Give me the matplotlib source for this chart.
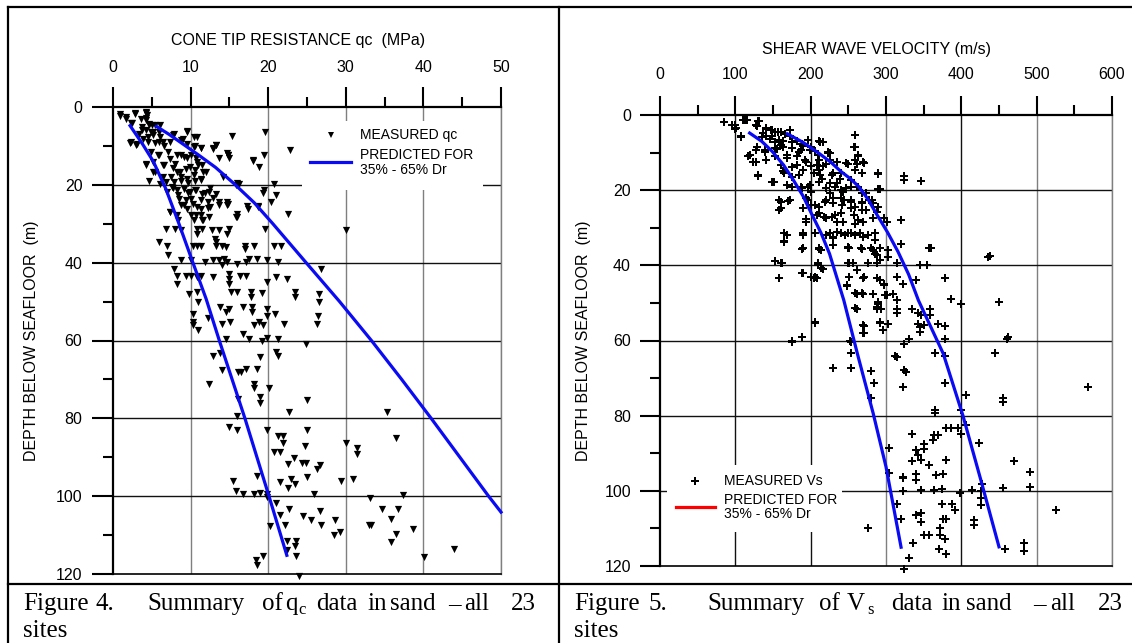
import matplotlib
matplotlib.use('Agg')
import matplotlib.pyplot as plt
from matplotlib.patches import Rectangle
from matplotlib.lines import Line2D

# ---------------- data ----------------
# Figure 4: measured cone tip resistance qc (MPa) vs depth (m)
qc_shallow = [(0.9,1.7),(1.7,2.6),(2.8,1.5),(2.3,4.0),(3.6,3.0),(4.3,1.3),(4.4,2.1),(4.3,3.4),(4.6,4.3),(3.8,5.1),
 (5.0,4.7),(5.4,4.7),(6.1,4.5),(4.3,6.0),(4.9,6.4),(3.3,6.9),(5.2,7.3),(5.9,6.4),(7.8,6.9),(9.5,6.2),(19.6,6.3),
 (10.8,7.7),(2.3,9.0),(3.1,9.4),(4.5,9.0),(5.9,9.0),(6.6,9.9),(7.3,9.0),(8.7,8.6),(9.6,9.4),(10.6,9.9),(11.3,10.5),
 (13.3,9.7),(12.9,10.7),(15.3,7.5),(22.8,11.1),(14.7,11.7),(14.8,12.4),(18.1,13.7),(19.4,12.3),(18.8,15.3),(4.3,14.6),
 (5.2,14.1),(5.9,12.4),(6.6,15.0),(5.4,16.7),(7.3,13.3),(8.0,14.6),(8.7,12.4),(9.6,13.1),(10.1,12.4),(10.8,14.1),
 (11.5,15.0),(12.0,16.7),(10.6,16.3),(9.4,15.9),(8.2,16.7),(7.5,18.0),(4.7,18.9),(6.1,19.7),(6.8,19.3),(8.7,18.9),
 (9.6,18.4),(10.6,18.9),(11.3,18.4),(16.0,19.5),(16.2,19.7),(20.8,19.7),(19.4,21.4),(21.0,22.5),(20.4,24.4),(7.6,20.6),
 (8.2,21.4),(9.2,21.0),(9.9,21.9),(10.6,21.4),(11.5,22.3),(12.4,21.9),(13.3,22.3),(8.5,23.6),(9.4,24.0),(10.1,23.6),
 (11.3,24.0),(12.3,24.4),(13.6,24.4),(14.7,25.3),(14.7,24.4),(17.3,25.5),(18.7,25.4),(8.7,25.3),(9.6,26.1),(10.8,25.7),
 (12.3,26.0),(7.3,27.0),(8.2,27.8),(10.1,27.8),(11.3,27.7),(12.4,28.3),(16.0,28.3),(16.0,27.4),(22.5,27.6),(10.5,29.1),
 (11.5,29.1)]
qc_shallow_extra = [(0.9,2.2),(1.7,3.1),(2.8,1.9),(4.2,1.6),(4.3,2.9),(2.4,4.2),(3.7,5.9),(4.7,4.6),(5.2,6.3),(4.5,7.6),
 (3.9,8.1),(6.0,7.6),(2.2,9.3),(3.0,9.8),(5.4,9.3),(6.4,8.9),(7.7,7.2),(9.0,8.1),(9.5,6.3),(10.5,7.6),(11.4,10.6),
 (10.5,10.2),(12.9,10.6),(13.3,9.8),(4.9,11.5),(5.8,12.3),(7.1,11.5),(8.2,12.3),(9.2,12.8),(10.7,13.2),(13.7,13.2),
 (15.0,13.2),(14.8,12.3),(18.0,13.9),(4.2,14.9),(6.4,14.9),(7.7,15.8),(8.6,16.6),(9.9,15.3),(11.0,14.9),(11.6,16.6),
 (5.2,16.6),(6.4,17.9),(7.9,19.2),(8.8,17.9),(9.7,19.6),(10.5,17.5),(11.4,18.8),(14.2,17.9),(15.9,20.0),(6.9,21.8),
 (7.7,20.9),(8.4,22.6),(9.7,22.2),(10.7,21.3),(11.8,22.2),(12.5,20.9),(12.9,23.5),(19.3,22.2),(7.3,26.9),(9.2,25.2),
 (10.3,24.8),(11.4,26.1),(12.5,25.6),(13.7,25.2),(14.8,24.8),(8.4,29.0),(10.7,27.8),(11.6,29.0),(15.9,28.2),(17.4,26.1),
 (18.7,25.6)]
qc_mid = [(6.8,31.3),(8.0,31.3),(8.7,31.7),(10.8,31.3),(11.5,31.3),(12.7,31.7),(13.6,31.7),(15.0,31.3),(14.7,32.6),
 (10.8,32.6),(19.6,31.3),(30.0,31.5),(13.1,33.8),(13.3,34.7),(5.9,34.7),(7.0,35.6),(10.3,35.6),(10.8,35.6),(11.3,35.6),
 (13.3,35.6),(14.1,35.6),(14.6,36.0),(17.0,35.6),(17.0,36.4),(18.2,35.6),(20.8,35.6),(21.7,35.6),(7.1,38.1),(8.7,39.4),
 (10.1,39.4),(11.9,39.8),(12.9,39.4),(13.6,39.4),(14.3,39.0),(14.7,39.8),(16.0,40.3),(17.1,39.8),(17.5,39.0),(18.6,39.0),
 (19.9,39.4),(21.3,39.8),(14.0,40.7),(26.8,41.6),(7.8,41.6),(8.2,43.3),(9.4,43.3),(10.1,43.3),(10.8,43.7),(11.3,43.3),
 (12.9,43.7),(15.0,42.8),(15.0,44.1),(16.4,43.3),(17.1,43.3),(19.9,45.0),(21.0,43.7),(22.4,44.1),(8.2,45.4),(15.0,45.4),
 (15.2,47.6),(16.0,47.6),(9.8,48.0),(10.8,47.6),(11.0,50.1),(17.8,47.6),(17.8,48.8),(19.2,47.7),(23.5,47.6),(23.5,48.8),
 (26.6,48.0),(26.6,50.1)]
qc_deep = [(10.3,53.2),(10.3,55.3),(10.3,56.1),(11.0,57.4),(12.3,54.3),(13.8,51.4),(14.5,52.7),(15.0,51.9),(14.0,55.7),
 (15.1,55.3),(16.8,51.4),(17.9,51.4),(17.9,52.7),(19.9,51.9),(19.9,53.6),(20.9,53.2),(22.1,55.7),(18.2,56.1),(18.8,55.3),
 (19.3,56.1),(26.4,53.6),(26.3,55.7),(16.8,58.3),(17.5,59.7),(19.2,60.0),(19.9,59.4),(21.3,59.7),(14.5,59.6),(24.9,60.9),
 (21.0,63.0),(21.2,64.0),(18.9,64.3),(12.9,64.0),(13.8,63.2),(14.0,67.7),(16.1,68.1),(16.5,68.0),(17.1,67.3),(18.5,67.3),
 (18.2,71.1),(18.2,72.2),(20.1,72.2),(12.4,71.1),(16.1,75.0),(18.9,74.6),(18.9,76.1),(25.0,75.2),(22.7,78.4),(35.3,78.4),
 (16.0,79.3),(15.0,82.3),(16.0,83.1),(19.8,83.1),(25.0,83.1),(21.3,84.6),(21.9,84.6),(36.5,85.1),(21.9,86.3),(30.0,86.3),
 (24.7,87.2),(20.8,88.7),(21.5,88.7),(31.5,87.7),(31.5,89.1),(23.3,90.2),(22.6,91.7),(24.4,91.4),(24.9,91.4),(26.7,91.9),
 (26.3,93.0),(18.6,94.7),(25.0,95.1),(22.9,95.5),(21.5,96.4),(15.4,96.0),(29.4,96.0),(30.9,95.5),(23.5,96.8),(22.6,97.9),
 (15.8,98.8),(16.8,99.4),(18.2,99.4),(19.0,99.2),(19.8,99.4),(19.9,100.2),(25.9,99.4),(37.4,99.8),(33.1,100.5),(21.0,101.7),
 (21.5,104.8),(22.7,103.4),(26.7,103.7),(34.7,103.4),(36.7,103.4),(24.5,105.1),(25.5,106.2),(35.8,105.8),(28.6,106.0),
 (20.2,107.7),(22.2,107.5),(26.8,107.5),(33.0,107.5),(33.3,107.5),(38.6,108.4),(29.2,109.1),(28.5,109.9),(36.5,109.7),
 (22.4,111.5),(23.6,111.5),(23.4,112.7),(22.4,113.9),(35.8,111.8),(43.9,113.7),(23.6,115.4),(40.1,115.7),(19.3,115.4),
 (18.4,116.5),(18.6,117.8),(24.0,120.4)]

# Figure 4: predicted qc bounds (35% and 65% Dr)
qc_pred_low_qc = [2.2, 3.8, 5.2, 6.8, 8.5, 10.3, 12.0, 13.7, 17.0, 20.1, 22.4]
qc_pred_low_depth = [4.8, 9.5, 14.0, 21.0, 30.0, 40.0, 49.3, 60.0, 80.0, 100.0, 115.2]
qc_pred_high_qc = [5.6, 7.2, 9.0, 11.0, 13.2, 15.6, 18.2, 20.6, 24.8, 29.2, 33.3, 37.2, 41.0, 44.7, 48.4, 50.0]
qc_pred_high_depth = [5.0, 7.0, 9.5, 12.3, 15.5, 19.7, 24.6, 30.0, 39.8, 50.0, 60.0, 70.0, 80.0, 90.0, 100.0, 104.1]

# Figure 5: measured shear wave velocity Vs (m/s) vs depth (m)
vs_shallow = [(85,1.9),(100,2.6),(100,3.7),(110,1.4),(115,1.4),(108,5.7),(132,1.7),(129,2.8),(141,3.5),(149,3.9),
 (153,4.4),(160,4.6),(173,3.9),(137,4.8),(141,5.7),(149,5.5),(158,6.6),(163,7.0),(173,5.7),(182,7.0),(190,8.2),(196,6.6),
 (211,7.0),(216,7.3),(129,8.4),(139,9.3),(153,8.8),(163,8.4),(175,8.8),(187,9.3),(201,8.4),(206,9.7),(223,10.0),(226,10.0),
 (117,11.0),(124,12.6),(141,11.9),(153,11.0),(168,11.5),(182,11.0),(192,11.9),(211,11.9),(225,11.9),(247,12.8),(259,11.9),
 (259,5.3),(259,8.4),(263,11.0),(271,12.8),(130,16.1),(149,17.9),(163,15.0),(175,16.4),(182,13.3),(190,14.6),(201,13.7),
 (211,14.6),(213,15.9),(216,13.7),(230,15.5),(240,15.5),(259,14.6),(290,15.8),(324,16.1),(324,17.3),(346,17.5),(290,19.8),
 (168,18.6),(175,19.1),(187,19.1),(196,19.1),(201,20.4),(211,17.7),(225,18.2),(232,19.1),(240,20.0),(247,19.5),(254,19.1),
 (263,19.1),(268,20.8),(158,22.6),(158,25.3),(170,22.8),(190,24.8),(196,22.6),(201,24.0),(211,24.4),(220,22.6),(225,20.8),
 (230,23.5),(240,22.2),(244,22.6),(254,23.1),(259,24.4),(268,23.5),(278,22.6),(283,23.5),(288,25.7),(298,27.5),(320,28.0),
 (194,27.8),(211,26.2),(218,27.1),(228,27.1),(235,28.4),(240,26.2),(254,24.8),(259,28.9),(263,28.0),(268,25.3),(273,25.3)]
vs_shallow_extra = [(95,2.6),(101,3.5),(113,1.2),(107,5.8),(128,2.7),(130,1.7),(141,3.6),(148,4.1),(157,4.5),(166,5.0),
 (172,4.1),(135,5.8),(146,6.3),(152,7.2),(161,8.1),(175,7.2),(188,7.6),(197,6.7),(213,7.2),(128,9.4),(139,9.8),(155,9.0),
 (168,10.7),(184,9.8),(199,9.4),(210,10.7),(223,9.8),(258,8.5),(263,10.7),(119,10.7),(128,12.5),(161,13.4),(175,13.8),
 (194,12.5),(208,13.4),(221,13.0),(235,12.5),(250,13.0),(261,13.0),(270,12.5),(130,16.0),(151,17.8),(164,15.5),(184,16.0),
 (204,15.5),(215,16.9),(228,16.0),(239,16.9),(254,17.3),(268,15.5),(290,15.5),(188,19.5),(199,18.6),(221,19.5),(235,18.2),
 (243,20.4),(261,19.1),(274,20.8),(292,19.7),(161,23.1),(172,22.6),(194,22.2),(206,23.9),(219,23.1),(230,22.2),(241,23.9),
 (254,22.6),(268,23.1),(281,22.6),(290,24.4),(161,24.8),(194,28.4),(208,26.6),(221,27.5),(232,26.6),(243,28.4),(257,26.6),
 (270,28.4),(283,27.5),(301,28.4),(168,32.0),(190,32.0),(221,32.0),(235,31.1),(246,32.0),(259,32.0),(270,32.4)]
vs_mid = [(165,31.5),(164,33.5),(190,31.5),(206,31.5),(225,31.5),(230,32.4),(230,34.6),(240,31.5),(249,31.5),(254,31.5),
 (266,31.5),(276,32.0),(285,31.5),(285,33.3),(320,34.4),(190,35.5),(211,35.5),(249,35.1),(251,35.5),(267,35.5),(280,35.5),
 (285,36.9),(292,35.5),(302,36.0),(302,37.8),(357,35.5),(360,35.5),(436,37.9),(438,37.6),(152,38.8),(160,39.5),(210,39.5),
 (216,40.9),(251,39.5),(256,39.5),(276,39.5),(288,39.5),(292,38.6),(314,39.5),(345,40.0),(355,40.0),(158,43.3),(190,42.0),
 (201,43.1),(206,43.1),(251,43.1),(271,43.1),(292,44.0),(297,44.9),(314,43.1),(323,44.9),(340,44.0),(378,43.3),(248,45.6),
 (259,47.4),(268,47.4),(283,47.6),(299,48.0),(309,47.6),(314,49.3),(386,48.9),(400,50.2),(450,49.8),(290,50.2)]
vs_mid_extra = [(164,33.7),(189,35.7),(211,35.6),(214,36.0),(230,32.8),(250,35.5),(268,35.7),(283,36.0),(288,37.2),
 (152,38.9),(162,39.5),(188,42.1),(158,43.3),(204,43.3),(208,43.3),(210,39.9),(214,40.8),(250,39.5),(261,41.2),(270,43.5),
 (288,43.5),(297,45.3),(248,45.3),(261,47.5),(270,47.5),(283,47.5),(301,47.9),(259,51.4),(288,51.0),(290,49.7),(206,55.2),
 (270,55.9),(270,58.1),(292,55.2),(303,55.5),(188,59.0),(175,60.2),(252,60.2)]
vs_deep = [(261,51.5),(288,51.5),(293,51.5),(314,51.5),(314,52.8),(335,51.5),(343,52.8),(347,53.3),(359,51.5),(359,53.3),
 (206,55.3),(271,56.2),(271,58.1),(292,55.3),(302,55.5),(296,57.2),(343,55.5),(345,56.4),(345,57.7),(350,56.0),(369,55.7),
 (378,56.2),(378,59.5),(175,60.4),(189,59.2),(253,60.4),(324,60.8),(330,59.7),(460,59.5),(462,59.2),(253,63.3),(312,64.2),
 (315,64.3),(365,63.3),(378,64.2),(445,63.3),(229,67.3),(253,67.3),(280,68.2),(324,67.9),(326,68.3),(284,71.3),(323,72.3),
 (378,71.3),(568,72.3),(280,75.2),(406,74.6),(455,75.2),(455,76.3),(365,78.4),(365,79.4),(400,78.5),(379,83.4),(386,83.4),
 (395,83.4),(400,84.8),(406,82.5),(364,85.2),(369,85.2),(335,84.8),(362,86.5),(350,87.6),(350,89.0),(340,89.2),(343,90.5),
 (347,91.9),(335,92.0),(357,93.2),(379,91.7),(424,87.4),(470,92.0),(491,95.0),(491,98.9),(304,88.7),(304,95.2),(323,96.3),
 (323,96.7),(340,95.4),(340,97.2),(367,95.8),(376,95.6),(427,98.1),(455,99.2),(347,99.7),(364,99.7),(374,99.4),(323,100.1),
 (398,100.6),(414,99.8),(426,100.0),(426,101.8),(426,103.8),(314,103.6),(374,103.6),(387,103.6),(392,105.2),(525,105.0),
 (340,106.5),(347,105.9),(346,108.3),(320,107.6),(376,107.6),(379,107.6),(417,107.8),(417,109.2),(276,110.0),(350,111.8),
 (357,111.8),(372,110.0),(372,111.8),(378,112.7),(336,113.9),(370,115.4),(379,116.7),(458,115.6),(483,113.9),(483,116.0),
 (330,117.9),(324,120.7)]

# Figure 5: predicted Vs bounds (35% and 65% Dr)
vs_pred_low_vs = [119, 135, 149, 164, 177, 190, 201, 214, 225, 244, 262, 283, 300, 320]
vs_pred_low_depth = [4.8, 7.0, 9.7, 13.3, 17.3, 21.6, 26.2, 31.5, 36.9, 49.3, 63.5, 79.4, 93.6, 115.0]
vs_pred_high_vs = [169, 190, 211, 227, 240, 253, 264, 276, 287, 302, 316, 330, 343, 376, 402, 426, 450]
vs_pred_high_depth = [5.0, 7.3, 10.2, 12.6, 15.0, 17.0, 19.1, 22.4, 26.2, 31.2, 36.4, 42.4, 49.3, 63.5, 79.9, 97.2, 114.9]

qc_xticks = [0, 10, 20, 30, 40, 50]
vs_xticks = [0, 100, 200, 300, 400, 500, 600]
depth_ticks = [0, 20, 40, 60, 80, 100, 120]

# ---------------- figure ----------------
W, H = 1132, 643
plt.rcParams['font.family'] = ['Liberation Sans', 'DejaVu Sans']
fig = plt.figure(figsize=(W / 100, H / 100), dpi=100)


def fx(px):
    return px / W


def fy(py):
    return 1 - py / H


ax1 = fig.add_axes([fx(113), fy(574), 388 / W, 467 / H])
ax2 = fig.add_axes([fx(660), fy(566), 452 / W, 451 / H])

BLUE = '#0a0af5'
GRAY = '#7f7f7f'


def setup(ax, xmax, xticks, xstep, xtick_len, xpad, ytick_len, ypad, vgrid_colors):
    ax.set_xlim(0, xmax)
    ax.set_ylim(120, 0)
    ax.xaxis.tick_top()
    ax.set_xticks(xticks)
    ax.set_xticks([t + xstep / 2 for t in xticks[:-1]], minor=True)
    ax.set_yticks(depth_ticks)
    ax.set_yticks([t + 10 for t in depth_ticks[:-1]], minor=True)
    ax.tick_params(axis='x', which='major', top=True, bottom=False, length=xtick_len, width=1.5,
                   pad=xpad, labelsize=11.5, direction='out')
    ax.tick_params(axis='x', which='minor', top=True, bottom=False, length=xtick_len / 2,
                   width=1.5, direction='out')
    ax.tick_params(axis='y', which='major', length=ytick_len, width=1.5, pad=ypad,
                   labelsize=11.5, direction='out')
    ax.tick_params(axis='y', which='minor', length=ytick_len / 2, width=1.5, direction='out')
    for s in ('top', 'left'):
        ax.spines[s].set_linewidth(1.6)
        ax.spines[s].set_color('black')
    ax.spines['bottom'].set_linewidth(1.2)
    ax.spines['bottom'].set_color('black')
    ax.spines['right'].set_linewidth(1.0)
    ax.spines['right'].set_color(vgrid_colors[-1])
    for t, c in zip(xticks[1:], vgrid_colors):
        ax.axvline(t, color=c, lw=1.0, zorder=0.5)
    for t in depth_ticks[1:-1]:
        ax.axhline(t, color='#111111', lw=1.0, zorder=0.5)


setup(ax1, 50, qc_xticks, 10, 14.5, 8.5, 15, 7, [GRAY] * 5)
setup(ax2, 600, vs_xticks, 100, 13.7, 10, 14.4, 6.5,
      ['#111111', '#111111', GRAY, '#111111', GRAY, GRAY])

# measured points
for pts in (qc_shallow, qc_shallow_extra, qc_mid, qc_deep):
    ax1.scatter([p[0] for p in pts], [p[1] for p in pts], marker='v', s=27, c='black',
                linewidths=0, zorder=3, clip_on=False)
for pts in (vs_shallow, vs_shallow_extra, vs_mid, vs_mid_extra, vs_deep):
    ax2.scatter([p[0] for p in pts], [p[1] for p in pts], marker='P', s=32, c='black',
                linewidths=0, zorder=3, clip_on=False)

# predicted curves
ax1.plot(qc_pred_low_qc, qc_pred_low_depth, color=BLUE, lw=2.3, zorder=4, solid_joinstyle='round')
ax1.plot(qc_pred_high_qc, qc_pred_high_depth, color=BLUE, lw=2.3, zorder=4, clip_on=False,
         solid_joinstyle='round')
ax2.plot(vs_pred_low_vs, vs_pred_low_depth, color=BLUE, lw=2.3, zorder=4, solid_joinstyle='round')
ax2.plot(vs_pred_high_vs, vs_pred_high_depth, color=BLUE, lw=2.3, zorder=4, solid_joinstyle='round')

# axis titles
ax1.text(0.477, 1.143, 'CONE TIP RESISTANCE qc  (MPa)', transform=ax1.transAxes,
         ha='center', va='center', fontsize=11.5)
ax1.text(-0.209, 0.5, 'DEPTH BELOW SEAFLOOR  (m)', transform=ax1.transAxes,
         ha='center', va='center', rotation=90, fontsize=11.5)
ax2.text(0.48, 1.146, 'SHEAR WAVE VELOCITY (m/s)', transform=ax2.transAxes,
         ha='center', va='center', fontsize=11.5)
ax2.text(-0.170, 0.5, 'DEPTH BELOW SEAFLOOR  (m)', transform=ax2.transAxes,
         ha='center', va='center', rotation=90, fontsize=11.5)


# legends (drawn manually to match the original layout)
def legend(ax, box, mk, marker, msize, line, line_color, text_x, text_ys, labels):
    ax.add_patch(Rectangle((box[0], box[1]), box[2] - box[0], box[3] - box[1],
                           transform=ax.transAxes, facecolor='white', edgecolor='none',
                           zorder=5, clip_on=False))
    ax.plot([mk[0]], [mk[1]], marker=marker, ms=msize, color='black', mew=0,
            transform=ax.transAxes, zorder=6, clip_on=False, ls='none')
    ax.plot([line[0], line[1]], [line[2], line[2]], color=line_color, lw=2.3,
            transform=ax.transAxes, zorder=6, clip_on=False)
    for y, lab in zip(text_ys, labels):
        ax.text(text_x, y, lab, transform=ax.transAxes, ha='left', va='center',
                fontsize=10, zorder=7)


legend(ax1, (0.487, 0.822, 0.954, 0.970), (0.562, 0.940), 'v', 5.0,
       (0.508, 0.613, 0.882), BLUE, 0.637, (0.940, 0.897, 0.865),
       ('MEASURED qc', 'PREDICTED FOR', '35% - 65% Dr'))
legend(ax2, (0.0155, 0.0754, 0.4027, 0.224), (0.0774, 0.189), 'P', 5.5,
       (0.0354, 0.1217, 0.1315), '#ff0000', 0.1416, (0.189, 0.1463, 0.1153),
       ('MEASURED Vs', 'PREDICTED FOR', '35% - 65% Dr'))

# table borders
for xs, ys in (([8, 8], [7, 643]), ([559, 559], [7, 643]), ([8, W], [7, 7]), ([8, W], [584, 584])):
    fig.add_artist(Line2D([fx(x) for x in xs], [fy(y) for y in ys], color='black', lw=1.6))

# captions
SERIF = ['Liberation Serif', 'DejaVu Serif']
CAP = 18


def caption(words, sub, sites_x, base1=610, base2=637):
    for x, w in words:
        fig.text(fx(x), fy(base1), w, family=SERIF, fontsize=CAP, ha='left', va='baseline')
    fig.text(fx(sub[0]), fy(base1 + 4), sub[1], family=SERIF, fontsize=12, ha='left', va='baseline')
    fig.text(fx(sites_x), fy(base2), 'sites', family=SERIF, fontsize=CAP, ha='left', va='baseline')


caption([(23, 'Figure'), (96, '4.'), (147, 'Summary'), (262, 'of'), (285, 'q'), (316, 'data'),
         (367, 'in'), (390, 'sand'), (448, '–'), (464, 'all'), (511, '23')], (298, 'c'), 23)
caption([(574, 'Figure'), (648, '5.'), (707, 'Summary'), (819, 'of'), (847, 'V'), (891, 'data'),
         (941, 'in'), (966, 'sand'), (1033, '–'), (1050, 'all'), (1098, '23')], (867, 's'), 574)

fig.savefig('out.png', dpi=100)
